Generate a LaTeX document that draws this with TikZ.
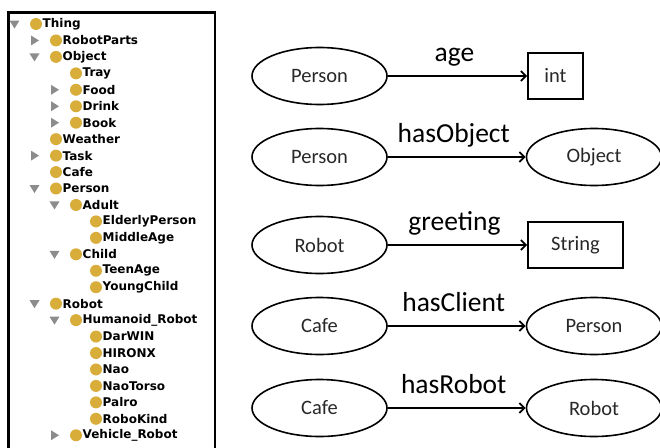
\documentclass[tikz,border=0pt]{standalone}
\usepackage{fontspec}
\setmainfont{Carlito}
\newfontfamily\treefont{DejaVu Sans}[BoldFont={DejaVu Sans Bold}]
\usetikzlibrary{shapes.geometric,arrows.meta}

\definecolor{classdot}{RGB}{216,173,58}
\definecolor{twisty}{RGB}{140,140,140}
\definecolor{nodetext}{RGB}{40,40,40}

\tikzset{
  treeitem/.style={anchor=west, inner sep=0pt, font=\treefont\bfseries\fontsize{12}{14}\selectfont},
  ent/.style={ellipse, draw, line width=1.6pt, minimum width=135pt, minimum height=57pt,
              inner sep=0pt, text=nodetext, font=\fontsize{20.5}{24}\selectfont},
  lit/.style={rectangle, draw, line width=1.6pt, minimum height=46pt, inner sep=0pt,
              text=nodetext, font=\fontsize{20.5}{24}\selectfont},
  rel/.style={line width=2pt, -{Straight Barb[length=5pt,width=10pt,line width=1.8pt]}},
  lab/.style={anchor=base, inner sep=0pt, font=\fontsize{27.5}{32}\selectfont},
}

\begin{document}
\begin{tikzpicture}[x=1pt,y=-1pt]
  \useasboundingbox (0,0) rectangle (660,447);

  % ---------- class hierarchy panel ----------
  \begin{scope}
    \clip (0,0) rectangle (660,447);
    \draw[line width=2.6pt] (8.5,470) -- (8.5,12.5) -- (215,12.5) -- (215,470);
  \end{scope}

  % level / twisty (0 none, 1 collapsed, 2 expanded) / class name
  \foreach \lvl/\st/\name [count=\i from 0] in {
      0/2/Thing, 1/1/RobotParts, 1/2/Object, 2/0/Tray, 2/1/Food, 2/1/Drink,
      2/1/Book, 1/0/Weather, 1/1/Task, 1/0/Cafe, 1/2/Person, 2/2/Adult,
      3/0/ElderlyPerson, 3/0/MiddleAge, 2/2/Child, 3/0/TeenAge, 3/0/YoungChild,
      1/2/Robot, 2/2/Humanoid\_Robot, 3/0/DarWIN, 3/0/HIRONX, 3/0/Nao,
      3/0/NaoTorso, 3/0/Palro, 3/0/RoboKind, 2/1/Vehicle\_Robot} {
    \pgfmathsetmacro{\ty}{24+16.45*\i}
    \pgfmathsetmacro{\tx}{14.5+20*\lvl}
    \pgfmathsetmacro{\cx}{36+20*\lvl}
    \ifnum\st=1
      \fill[twisty] (\tx-3.5,\ty-5) -- (\tx+4.5,\ty) -- (\tx-3.5,\ty+5) -- cycle;
    \fi
    \ifnum\st=2
      \fill[twisty] (\tx-5,\ty-3.5) -- (\tx+5,\ty-3.5) -- (\tx,\ty+4.5) -- cycle;
    \fi
    \fill[classdot] (\cx,\ty) circle (6pt);
    \node[treeitem] (t\i) at (\cx+6.5,\ty) {\name};
  }

  % ---------- property examples ----------
  \node[ent] (s1) at (319.5,76) {Person};
  \node[lit, minimum width=55pt] (o1) at (555.5,76) {int};
  \draw[rel] (s1) -- (o1) coordinate[midway] (m1);
  \node[lab] (l1) at ([xshift=-3pt,yshift=15pt]m1) {age};

  \node[ent] (s2) at (319.5,157) {Person};
  \node[ent] (o2) at (594,157) {Object};
  \draw[rel] (s2) -- (o2) coordinate[midway] (m2);
  \node[lab] (l2) at ([xshift=-3pt,yshift=15pt]m2) {hasObject};

  \node[ent] (s3) at (319.5,245) {Robot};
  \node[lit, minimum width=95pt] (o3) at (575.5,245) {String};
  \draw[rel] (s3) -- (o3) coordinate[midway] (m3);
  \node[lab] (l3) at ([xshift=-3pt,yshift=15pt]m3) {greeting};

  \node[ent] (s4) at (319.5,326) {Cafe};
  \node[ent] (o4) at (594,326) {Person};
  \draw[rel] (s4) -- (o4) coordinate[midway] (m4);
  \node[lab] (l4) at ([xshift=-3pt,yshift=15pt]m4) {hasClient};

  \node[ent] (s5) at (319.5,408) {Cafe};
  \node[ent] (o5) at (594,408) {Robot};
  \draw[rel] (s5) -- (o5) coordinate[midway] (m5);
  \node[lab] (l5) at ([xshift=-3pt,yshift=15pt]m5) {hasRobot};
\end{tikzpicture}
\end{document}
